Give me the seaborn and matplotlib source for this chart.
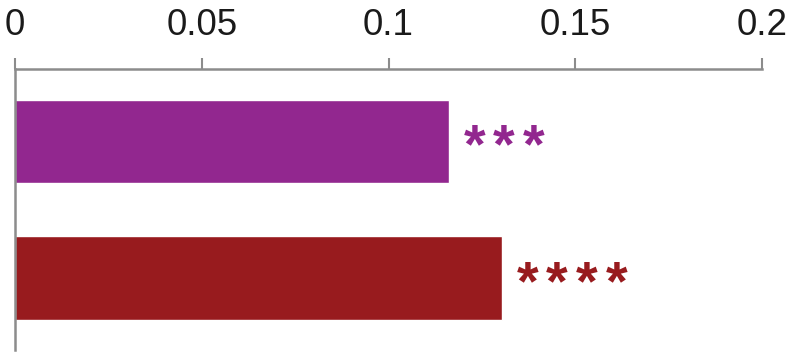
import matplotlib
matplotlib.use("Agg")
import matplotlib.pyplot as plt
import seaborn as sns
import pandas as pd

# Data
groups = ["A", "B"]
values = [0.1162, 0.1304]
stars = ["***", "****"]
colors = ["#92278F", "#981B1E"]
ticks = [0, 0.05, 0.1, 0.15, 0.2]
tick_labels = ["0", "0.05", "0.1", "0.15", "0.2"]

sns.set_style("white")
plt.rcParams["font.family"] = ["Liberation Sans", "DejaVu Sans"]

df = pd.DataFrame({"group": groups, "value": values})

fig = plt.figure(figsize=(8.07, 3.54), dpi=100)
ax = fig.add_axes([15 / 807, 1 - 350 / 354, (762 - 15) / 807, (350 - 69) / 354])

sns.barplot(data=df, x="value", y="group", hue="group", palette=colors,
            orient="h", width=0.61, legend=False, ax=ax, saturation=1)

# significance stars, one glyph at a time so they are evenly spaced
for i, (v, s, c) in enumerate(zip(values, stars, colors)):
    for k, ch in enumerate(s):
        ax.annotate(ch, xy=(v, i), xytext=(10.5 + k * 21.3, -5),
                    textcoords="offset points", ha="left", va="center",
                    color=c, fontsize=40, fontweight="bold")

ax.set_xlim(0, 0.2)
ax.set_ylim(1.527, -0.531)
ax.xaxis.tick_top()
ax.set_xticks(ticks)
ax.set_xticklabels(tick_labels)
ax.set_yticks([])
ax.set_xlabel("")
ax.set_ylabel("")
ax.tick_params(axis="x", which="major", direction="out", length=8, width=1.5,
               color="#8c8c8c", labelsize=26.5, labelcolor="#1a1a1a", pad=11)

for side in ["right", "bottom"]:
    ax.spines[side].set_visible(False)
for side in ["top", "left"]:
    ax.spines[side].set_color("#8c8c8c")
    ax.spines[side].set_linewidth(1.8)

fig.savefig("out.png", dpi=100)
